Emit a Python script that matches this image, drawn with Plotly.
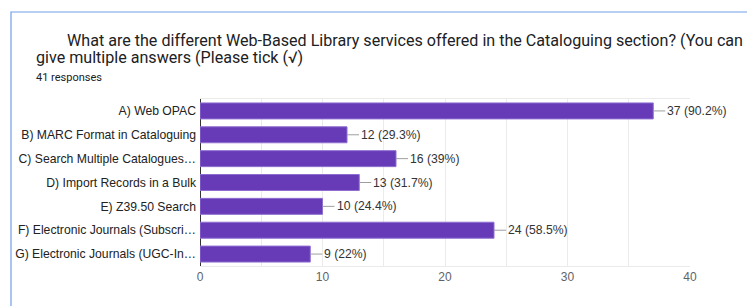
import plotly.graph_objects as go

categories = [
    "A) Web OPAC",
    "B) MARC Format in Cataloguing",
    "C) Search Multiple Catalogues…",
    "D) Import Records in a Bulk",
    "E) Z39.50 Search",
    "F) Electronic Journals (Subscri…",
    "G) Electronic Journals (UGC-In…",
]
counts = [37, 12, 16, 13, 10, 24, 9]
percents = ["90.2%", "29.3%", "39%", "31.7%", "24.4%", "58.5%", "22%"]
x_ticks = [0, 10, 20, 30, 40]

title_line1 = "What are the different Web-Based Library services offered in the Cataloguing section? (You can"
title_line2 = "give multiple answers (Please tick (√)"
subtitle = "41 responses"

# the page body has an 8px margin; work in screen pixels and offset
OFF = 8
W, H = 755 - OFF, 306 - OFF
L, R, T, B = 200 - OFF, 65, 99 - OFF, 40
pw = W - L - R
ph = H - T - B

def px_x(p):
    return (p - OFF - L) / pw

def px_y(p):
    return (H - B - (p - OFF)) / ph

fig = go.Figure()
fig.add_trace(go.Bar(
    y=categories, x=counts, orientation="h",
    marker=dict(color="#673ab7", line=dict(color="#8e6fd0", width=1)),
    hoverinfo="skip",
))

annotations = []
for c, v, p in zip(categories, counts, percents):
    annotations.append(dict(
        x=v, y=c, xref="x", yref="y",
        text=f"{v} ({p})", showarrow=True, arrowhead=0, arrowwidth=1,
        arrowcolor="#9e9e9e", ax=12, ay=0, xanchor="left", standoff=0,
        font=dict(family="Liberation Sans, Arial", size=12.2, color="#333333"),
    ))

annotations.append(dict(
    xref="paper", yref="paper", x=px_x(65), y=px_y(40), xanchor="left", yanchor="middle",
    text=title_line1,
    showarrow=False, font=dict(family="Roboto", size=16.1, color="#202124"),
))
annotations.append(dict(
    xref="paper", yref="paper", x=px_x(34), y=px_y(58), xanchor="left", yanchor="middle",
    text=title_line2, showarrow=False, font=dict(family="Roboto", size=16.1, color="#202124"),
))
annotations.append(dict(
    xref="paper", yref="paper", x=px_x(34), y=px_y(77), xanchor="left", yanchor="middle",
    text=subtitle, showarrow=False, font=dict(family="Roboto", size=11, color="#202124"),
))

shapes = [dict(
    type="rect", xref="paper", yref="paper",
    x0=px_x(11), x1=px_x(790), y0=px_y(340), y1=px_y(12),
    line=dict(color="#6fa0e8", width=1.2), fillcolor="rgba(0,0,0,0)", layer="below",
)]

fig.update_layout(
    width=W, height=H,
    margin=dict(l=L, r=R, t=T, b=B, autoexpand=False),
    paper_bgcolor="white", plot_bgcolor="white",
    showlegend=False, bargap=0.33,
    annotations=annotations, shapes=shapes,
    xaxis=dict(
        range=[0, 40], tickvals=x_ticks, showgrid=True, gridcolor="#ebebeb",
        minor=dict(dtick=5, showgrid=True, gridcolor="#ebebeb"),
        zeroline=True, zerolinecolor="#333333", zerolinewidth=1,
        showline=True, mirror=True, linecolor="#ebebeb",
        tickfont=dict(family="Liberation Sans, Arial", size=12, color="#5f6368"),
        ticks="", fixedrange=True, automargin=False,
    ),
    yaxis=dict(
        autorange="reversed", showgrid=False, ticks="", ticklabelstandoff=3,
        tickfont=dict(family="Liberation Sans, Arial", size=12.2, color="#222222"),
        showline=False, automargin=False,
    ),
)

fig.write_html("out.html")
